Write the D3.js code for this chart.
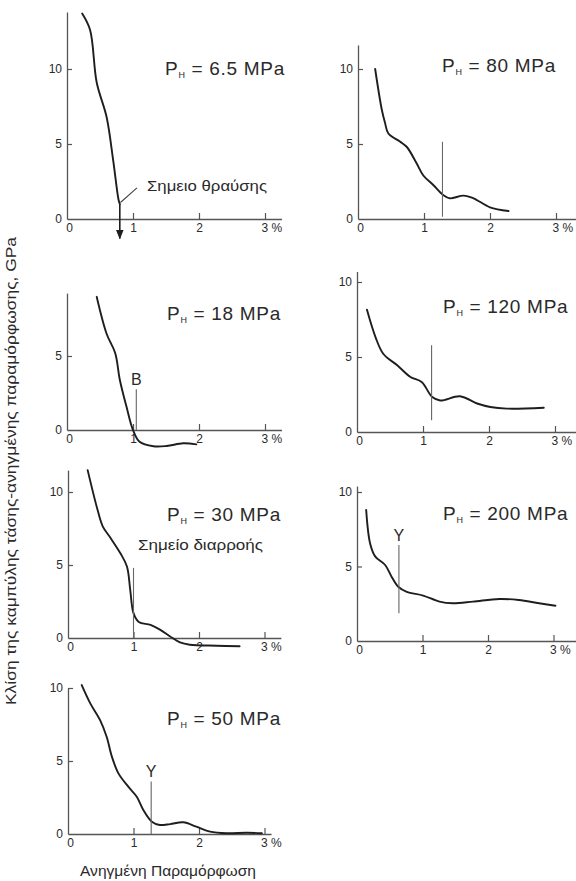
<!DOCTYPE html>
<html><head><meta charset="utf-8">
<script src="https://cdn.jsdelivr.net/npm/d3@7"></script>
<style>body{margin:0;background:#fff}svg{display:block}text{font-family:"Liberation Sans",Arial,sans-serif;fill:#2a2a2a}</style>
</head><body><svg id="c" width="576" height="881"></svg>
<script>
// ---------- data ----------
const pressures = ["6.5", "18", "30", "50", "80", "120", "200"];
const xTicks = [0, 1, 2, 3];
const yTickSets = [[0,5,10],[0,5],[0,5,10],[0,5,10],[0,5,10],[0,5,10],[0,5,10]];
const curve65  = [[0.23,13.7],[0.35,12.6],[0.45,9.1],[0.6,6.8],[0.7,3.9],[0.78,1.3],[0.8,1.0]];
const curve18  = [[0.45,9.0],[0.6,6.5],[0.73,5.2],[0.8,3.4],[0.9,1.6],[1.0,0],[1.1,-0.8],[1.31,-1.1],[1.51,-1.08],[1.76,-0.9],[1.96,-0.97]];
const curve30  = [[0.3,11.5],[0.45,8.8],[0.53,7.65],[0.65,6.85],[0.8,5.8],[0.9,4.9],[0.95,3.3],[1.0,1.7],[1.08,1.1],[1.26,0.9],[1.41,0.56],[1.56,0.1],[1.71,-0.3],[1.86,-0.46],[2.27,-0.53],[2.62,-0.57]];
const curve50  = [[0.21,10.2],[0.34,8.95],[0.49,7.8],[0.59,6.66],[0.67,5.3],[0.77,4.15],[0.92,3.24],[1.05,2.55],[1.15,1.64],[1.28,0.84],[1.4,0.62],[1.56,0.68],[1.76,0.8],[1.96,0.5],[2.17,0.16],[2.42,0.05],[2.73,0.09],[2.96,0.05]];
const curve80  = [[0.26,10],[0.36,7.3],[0.41,6.4],[0.46,5.7],[0.64,5.15],[0.74,4.8],[0.89,3.7],[0.99,2.9],[1.14,2.27],[1.29,1.6],[1.39,1.38],[1.6,1.56],[1.75,1.38],[2.0,0.78],[2.28,0.53]];
const curve120 = [[0.15,8.16],[0.28,6.33],[0.4,5.2],[0.61,4.45],[0.81,3.67],[0.98,3.33],[1.14,2.33],[1.26,2.1],[1.56,2.38],[1.82,1.9],[2.02,1.67],[2.27,1.56],[2.83,1.62]];
const curve200 = [[0.14,8.8],[0.2,6.55],[0.28,5.66],[0.43,5.1],[0.53,4.3],[0.63,3.64],[0.76,3.3],[1.01,3.05],[1.26,2.64],[1.46,2.53],[1.77,2.64],[2.17,2.82],[2.47,2.75],[2.78,2.53],[3.03,2.37]];
const curves = [curve65, curve18, curve30, curve50, curve80, curve120, curve200];
// marker lines: [x, yTop, yBottom, label]
const markers = [null, [1.05,2.75,0,"B"], [1.0,4.8,0,""], [1.27,3.6,0,"Y"], [1.28,5.15,0.15,""], [1.13,5.78,0.78,""], [0.64,6.44,1.86,"Y"]];
const fractureArrow = [0.8, 1.0, -1.3];
const notes = ["Σημειο θραύσης", "Σημείο διαρροής"];
const xTitle = "Ανηγμένη Παραμόρφωση";
const yTitle = "Κλίση της καμπύλης τάσης-ανηγμένης παραμόρφωσης, GPa";

// ---------- layout ----------
const panels = [
  {ox:67,  oy:219, top:13.8, sx:66, sy:15,   xend:3.25},
  {ox:67,  oy:430, top:9.25, sx:66, sy:14.8, xend:3.25},
  {ox:68,  oy:638, top:11.5, sx:65.5, sy:14.6, xend:3.25},
  {ox:68,  oy:834, top:10.0, sx:65.5, sy:14.6, xend:3.1},
  {ox:358, oy:219, top:11.6, sx:66, sy:15,   xend:3.4},
  {ox:357, oy:432, top:10.7, sx:66, sy:15,   xend:3.4},
  {ox:357, oy:641, top:10.4, sx:65.5, sy:14.9, xend:3.4}
];
const labelPos = [[165,75],[167,320],[167,521],[167,725],[442,72],[443,313],[443,520]];

const svg = d3.select("#c");
const line = d3.line().curve(d3.curveCatmullRom.alpha(0.5));
const fmt = d3.format("d");

panels.forEach((p, i) => {
  const x = d3.scaleLinear().domain([0, p.xend]).range([p.ox, p.ox + p.xend * p.sx]);
  const y = d3.scaleLinear().domain([0, p.top]).range([p.oy, p.oy - p.top * p.sy]);
  const g = svg.append("g");

  // y axis
  const ya = g.append("g").attr("transform", `translate(${p.ox},0)`)
    .call(d3.axisLeft(y).tickValues(yTickSets[i]).tickFormat(fmt).tickSize(-5).tickSizeOuter(0).tickPadding(5));
  ya.select(".domain").attr("stroke", "#555").attr("stroke-width", 1.3);
  ya.selectAll(".tick line").attr("stroke", "#555").attr("stroke-width", 1.2);
  ya.selectAll(".tick text").style("font-size", "12px").attr("fill", "#444");
  ya.selectAll(".tick").filter(d => d === 0).select("line").remove();

  // x axis
  const xa = g.append("g").attr("transform", `translate(0,${p.oy})`)
    .call(d3.axisBottom(x).tickValues(xTicks).tickFormat(fmt).tickSize(-6).tickSizeOuter(0).tickPadding(4));
  xa.select(".domain").attr("stroke", "#555").attr("stroke-width", 1.3);
  xa.selectAll(".tick line").attr("stroke", "#555").attr("stroke-width", 1.2);
  xa.selectAll(".tick text").style("font-size", "12px").attr("fill", "#444");
  xa.selectAll(".tick").filter(d => d === 0).select("line").remove();
  xa.selectAll(".tick").filter(d => d === 0).select("text").attr("x", 2);
  xa.selectAll(".tick").filter(d => d === 3).select("text")
    .attr("text-anchor", "start").attr("x", -4).text("3 %");

  // curve
  g.append("path").attr("d", line(curves[i].map(d => [x(d[0]), y(d[1])])))
    .attr("fill", "none").attr("stroke", "#1e1e1e").attr("stroke-width", 1.9)
    .attr("stroke-linejoin", "round").attr("stroke-linecap", "round");

  // marker
  const m = markers[i];
  if (m) {
    g.append("line").attr("x1", x(m[0])).attr("x2", x(m[0]))
      .attr("y1", y(m[1])).attr("y2", y(m[2]))
      .attr("stroke", "#666").attr("stroke-width", 1.1);
    if (m[3]) g.append("text").attr("x", x(m[0])).attr("y", y(m[1]) - 4)
      .attr("text-anchor", "middle").style("font-size", "16px").text(m[3]);
  }

  // pressure label
  const t = g.append("text").attr("x", labelPos[i][0]).attr("y", labelPos[i][1])
    .style("font-size", "19px").style("letter-spacing", "0.7px");
  t.append("tspan").text("P");
  t.append("tspan").text("H").style("font-size", "9px").attr("dy", 3);
  t.append("tspan").text(" = " + pressures[i] + " MPa").attr("dy", -3);

  if (i === 0) {
    svg.append("defs").append("marker").attr("id", "ah").attr("viewBox", "0 0 10 10")
      .attr("refX", 9).attr("refY", 5).attr("markerWidth", 6).attr("markerHeight", 6)
      .attr("orient", "auto").append("path").attr("d", "M0,1 L10,5 L0,9 z").attr("fill", "#1e1e1e");
    g.append("line").attr("x1", x(fractureArrow[0])).attr("x2", x(fractureArrow[0]))
      .attr("y1", y(fractureArrow[1])).attr("y2", y(fractureArrow[2]))
      .attr("stroke", "#1e1e1e").attr("stroke-width", 1.6).attr("marker-end", "url(#ah)");
    g.append("line").attr("x1", x(1.06)).attr("y1", y(2.07)).attr("x2", x(0.81)).attr("y2", y(1.1))
      .attr("stroke", "#444").attr("stroke-width", 1.1);
    g.append("text").attr("x", 147).attr("y", 191).style("font-size", "15px")
      .attr("textLength", 120).attr("lengthAdjust", "spacingAndGlyphs").text(notes[0]);
  }
  if (i === 2) {
    g.append("text").attr("x", 138).attr("y", 550).style("font-size", "15px")
      .attr("textLength", 125).attr("lengthAdjust", "spacingAndGlyphs").text(notes[1]);
  }
});

svg.append("text").attr("x", 168).attr("y", 876).attr("text-anchor", "middle")
  .style("font-size", "15.5px").attr("textLength", 176).attr("lengthAdjust", "spacingAndGlyphs").text(xTitle);
svg.append("text").attr("transform", "translate(16,471) rotate(-90)").attr("text-anchor", "middle")
  .style("font-size", "14.5px").attr("textLength", 468).attr("lengthAdjust", "spacingAndGlyphs").text(yTitle);
</script></body></html>
